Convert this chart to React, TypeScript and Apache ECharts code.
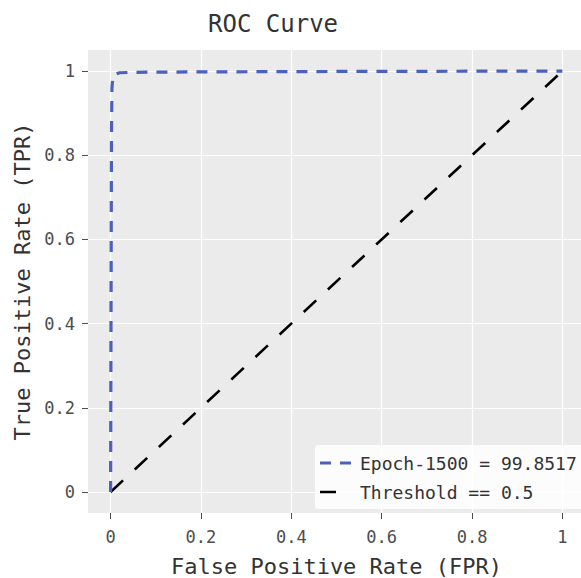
import React, { useEffect, useRef } from "react";
import * as echarts from "echarts";

const MONO = "'DejaVu Sans Mono', 'Liberation Mono', monospace";

const epochName = "Epoch-1500 = 99.8517";
const thresholdName = "Threshold == 0.5";

const fprEpoch = [0, 0.001, 0.002, 0.003, 0.005, 0.01, 0.02, 0.05, 0.2, 0.5, 1];
const tprEpoch = [0, 0.45, 0.85, 0.96, 0.985, 0.992, 0.996, 0.997, 0.998, 0.999, 1];

const fprThreshold = [0, 1];
const tprThreshold = [0, 1];

const tickValues = [0, 0.2, 0.4, 0.6, 0.8, 1];

const zip = (xs: number[], ys: number[]) => xs.map((x, i) => [x, ys[i]]);

export default function App() {
  const ref = useRef<HTMLDivElement>(null);
  useEffect(() => {
    if (!ref.current) return;
    const chart = echarts.init(ref.current, null, { renderer: "svg" });
    const axisCommon = (name: string, isX: boolean) => ({
      type: "value",
      min: -0.05,
      max: 1.05,
      name,
      nameLocation: "middle",
      nameGap: isX ? 42 : 51,
      nameTextStyle: { fontFamily: MONO, fontSize: 22, color: "#333" },
      axisLine: { show: false, onZero: false },
      axisTick: {
        show: true,
        length: 6,
        customValues: tickValues,
        lineStyle: { color: "#4d4d4d", width: 1 },
      },
      axisLabel: {
        customValues: tickValues,
        margin: isX ? 15 : 13,
        fontFamily: MONO,
        fontSize: 17,
        color: "#4d4d4d",
        formatter: (v: number) => String(Math.round(v * 10) / 10),
      },
      splitLine: {
        show: true,
        customValues: tickValues,
        lineStyle: { color: "#ffffff", width: 1.2 },
      },
    });
    chart.setOption({
      animation: false,
      backgroundColor: "#ffffff",
      title: {
        text: "ROC Curve",
        left: 203,
        top: 7,
        textStyle: { fontFamily: MONO, fontSize: 24, fontWeight: "normal", color: "#333" },
      },
      grid: {
        left: 88,
        top: 50,
        width: 497,
        height: 463,
        show: true,
        backgroundColor: "#ebebeb",
        borderWidth: 0,
        outerBoundsMode: "none",
        containLabel: false,
      },
      xAxis: axisCommon("False Positive Rate (FPR)", true),
      yAxis: axisCommon("True Positive Rate (TPR)", false),
      legend: {
        orient: "vertical",
        left: 315,
        top: 445,
        padding: [9, 10, 8, 5],
        itemGap: 11,
        itemWidth: 35,
        itemHeight: 3.4,
        backgroundColor: "rgba(255,255,255,0.85)",
        borderRadius: 3,
        textStyle: { fontFamily: MONO, fontSize: 18, color: "#333" },
        data: [
          { name: epochName, icon: "path://M0,0h11v3.2h-11zM20,0h11v3.2h-11zM34.9,0h0.1v0.01h-0.1z" },
          { name: thresholdName, icon: "path://M0,0h16v2.6h-16zM34.9,0h0.1v0.01h-0.1z" },
        ],
      },
      series: [
        {
          name: epochName,
          type: "line",
          data: zip(fprEpoch, tprEpoch),
          symbol: "none",
          lineStyle: { color: "#4c61bd", width: 3.2, type: [11, 9] },
          itemStyle: { color: "#4c61bd" },
          z: 3,
        },
        {
          name: thresholdName,
          type: "line",
          data: zip(fprThreshold, tprThreshold),
          symbol: "none",
          lineStyle: { color: "#000000", width: 2.6, type: [17, 16] },
          itemStyle: { color: "#000000" },
          z: 2,
        },
      ],
    });
    return () => chart.dispose();
  }, []);
  return (
    <div
      ref={ref}
      style={{ position: "fixed", left: 0, top: 0, width: 581, height: 578 }}
    />
  );
}
